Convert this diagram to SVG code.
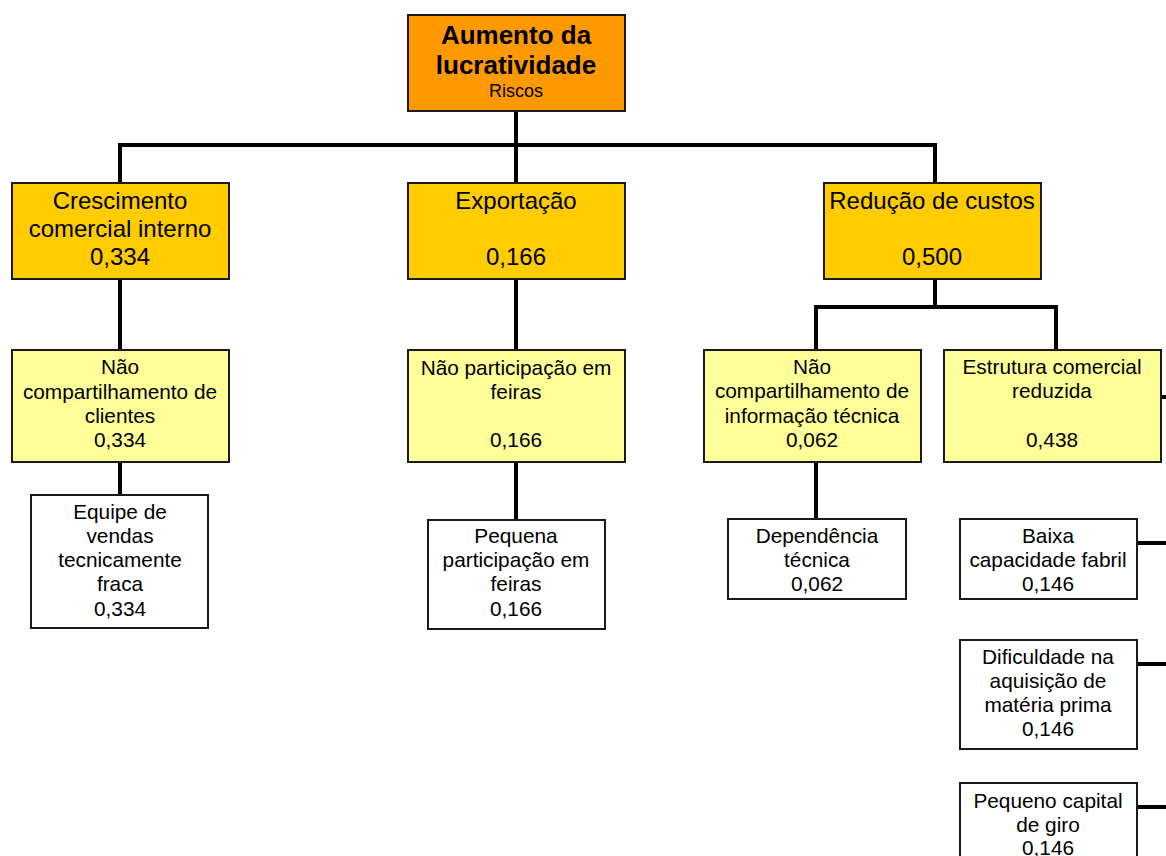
<svg xmlns="http://www.w3.org/2000/svg" width="1166" height="856" viewBox="0 0 1166 856">
  <style>
    .box { stroke: #1a1a1a; stroke-width: 2; }
    .goal { fill: #FF9900; }
    .crit { fill: #FFCC00; }
    .sub { fill: #FFFF99; }
    .leaf { fill: #FFFFFF; }
    text { font-family: "Liberation Sans", Arial, sans-serif; fill: #000; text-anchor: middle; }
    .t0 { font-size: 26px; font-weight: bold; }
    .t0s { font-size: 18px; }
    .t1 { font-size: 24px; }
    .t2 { font-size: 20.8px; }
    .conn { stroke: #000; stroke-width: 4; fill: none; stroke-linecap: square; }
  </style>
  <rect width="1166" height="856" fill="#FFFFFF"/>

  <g id="connectors">
    <path class="conn" d="M516 111 V145 M120 145 H935 M120 145 V183 M516 145 V183 M935 145 V183"/>
    <path class="conn" d="M120 279 V350 M516 279 V350 M935 279 V307 M816 307 H1056 M816 307 V350 M1056 307 V350"/>
    <path class="conn" d="M120 462 V495 M516 462 V520 M816 462 V519"/>
    <path class="conn" d="M1161 397 H1168 M1137 543 H1168 M1137 664 H1168 M1137 807 H1168"/>
  </g>

  <g id="root">
    <rect class="box goal" x="408" y="15" width="217" height="96"/>
    <text class="t0" x="516" y="44">Aumento da</text>
    <text class="t0" x="516" y="74">lucratividade</text>
    <text class="t0s" x="516" y="97">Riscos</text>
  </g>

  <g id="crescimento">
    <rect class="box crit" x="12" y="183" width="217" height="96"/>
    <text class="t1" x="120" y="209">Crescimento</text>
    <text class="t1" x="120" y="237">comercial interno</text>
    <text class="t1" x="120" y="265">0,334</text>
  </g>

  <g id="exportacao">
    <rect class="box crit" x="408" y="183" width="217" height="96"/>
    <text class="t1" x="516" y="209">Exportação</text>
    <text class="t1" x="516" y="265">0,166</text>
  </g>

  <g id="reducao">
    <rect class="box crit" x="824" y="183" width="217" height="96"/>
    <text class="t1" x="932" y="209">Redução de custos</text>
    <text class="t1" x="932" y="265">0,500</text>
  </g>

  <g id="nao-compartilhamento-clientes">
    <rect class="box sub" x="12" y="350" width="217" height="112"/>
    <text class="t2" x="120" y="374">Não</text>
    <text class="t2" x="120" y="399">compartilhamento de</text>
    <text class="t2" x="120" y="423">clientes</text>
    <text class="t2" x="120" y="447">0,334</text>
  </g>

  <g id="nao-participacao-feiras">
    <rect class="box sub" x="408" y="350" width="217" height="112"/>
    <text class="t2" x="516" y="375">Não participação em</text>
    <text class="t2" x="516" y="399">feiras</text>
    <text class="t2" x="516" y="447">0,166</text>
  </g>

  <g id="nao-compartilhamento-informacao">
    <rect class="box sub" x="704" y="350" width="217" height="112"/>
    <text class="t2" x="812" y="374">Não</text>
    <text class="t2" x="812" y="398">compartilhamento de</text>
    <text class="t2" x="812" y="423">informação técnica</text>
    <text class="t2" x="812" y="447">0,062</text>
  </g>

  <g id="estrutura-comercial">
    <rect class="box sub" x="944" y="350" width="217" height="112"/>
    <text class="t2" x="1052" y="374">Estrutura comercial</text>
    <text class="t2" x="1052" y="398">reduzida</text>
    <text class="t2" x="1052" y="447">0,438</text>
  </g>

  <g id="equipe-vendas">
    <rect class="box leaf" x="31" y="495" width="177" height="133"/>
    <text class="t2" x="120" y="519">Equipe de</text>
    <text class="t2" x="120" y="543">vendas</text>
    <text class="t2" x="120" y="567">tecnicamente</text>
    <text class="t2" x="120" y="591">fraca</text>
    <text class="t2" x="120" y="616">0,334</text>
  </g>

  <g id="pequena-participacao">
    <rect class="box leaf" x="428" y="520" width="177" height="109"/>
    <text class="t2" x="516" y="543">Pequena</text>
    <text class="t2" x="516" y="567">participação em</text>
    <text class="t2" x="516" y="591">feiras</text>
    <text class="t2" x="516" y="616">0,166</text>
  </g>

  <g id="dependencia-tecnica">
    <rect class="box leaf" x="728" y="519" width="178" height="80"/>
    <text class="t2" x="817" y="543">Dependência</text>
    <text class="t2" x="817" y="567">técnica</text>
    <text class="t2" x="817" y="591">0,062</text>
  </g>

  <g id="baixa-capacidade">
    <rect class="box leaf" x="960" y="519" width="177" height="80"/>
    <text class="t2" x="1048" y="543">Baixa</text>
    <text class="t2" x="1048" y="567">capacidade fabril</text>
    <text class="t2" x="1048" y="591">0,146</text>
  </g>

  <g id="dificuldade-materia-prima">
    <rect class="box leaf" x="960" y="640" width="177" height="109"/>
    <text class="t2" x="1048" y="664">Dificuldade na</text>
    <text class="t2" x="1048" y="688">aquisição de</text>
    <text class="t2" x="1048" y="712">matéria prima</text>
    <text class="t2" x="1048" y="736">0,146</text>
  </g>

  <g id="capital-giro">
    <rect class="box leaf" x="960" y="783" width="177" height="90"/>
    <text class="t2" x="1048" y="808">Pequeno capital</text>
    <text class="t2" x="1048" y="832">de giro</text>
    <text class="t2" x="1048" y="855">0,146</text>
  </g>
</svg>
